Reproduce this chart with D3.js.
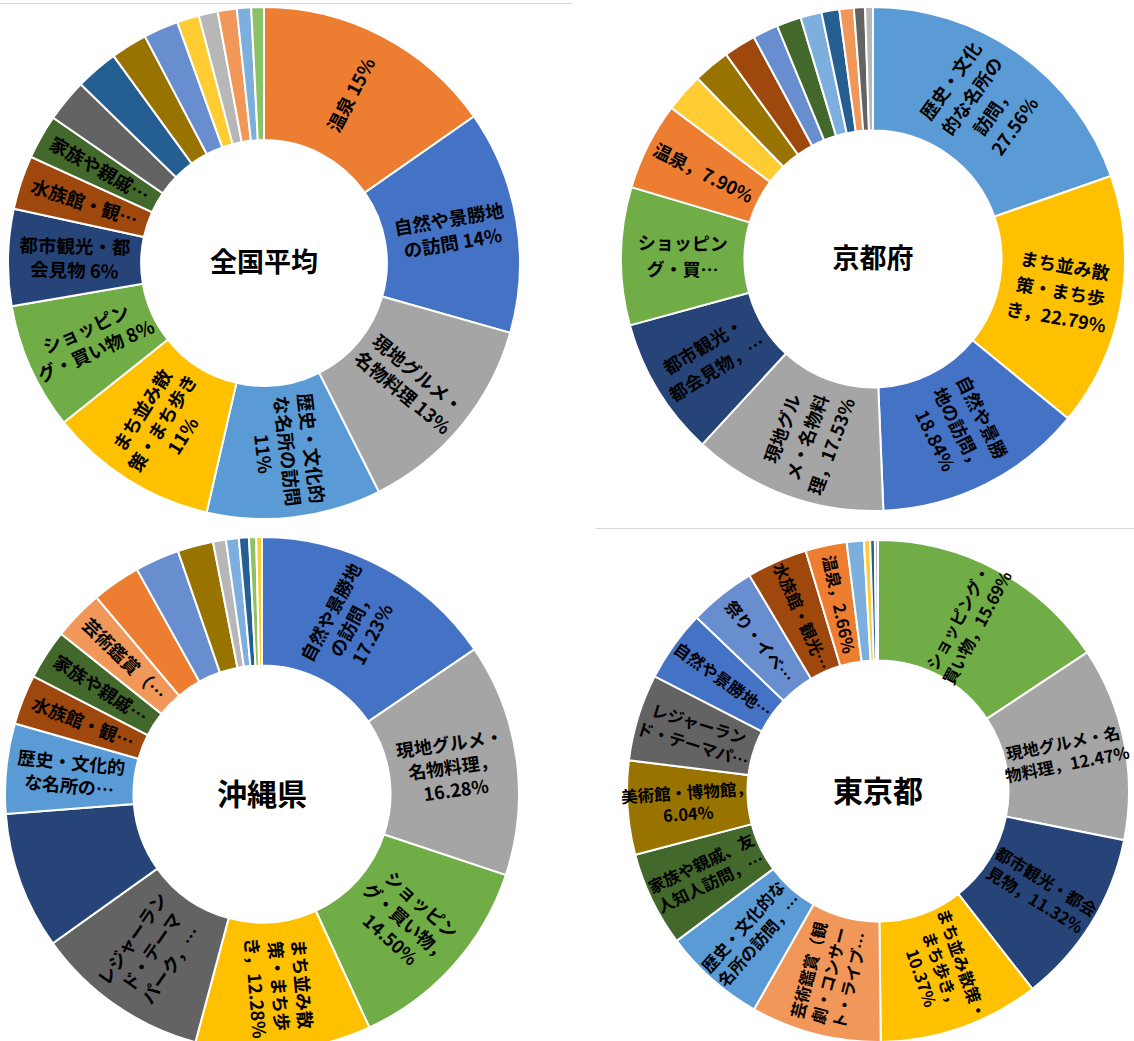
<!DOCTYPE html>
<html>
<head>
<meta charset="utf-8">
<script src="https://cdn.jsdelivr.net/npm/d3@7"></script>
<style>
  body { margin: 0; background: #fff; }
  svg { display: block; font-family: "Noto Sans CJK JP", sans-serif; }
</style>
</head>
<body>
<div id="chart"></div>
<script>
// Category list and Excel-style colours (same colour per category in every chart)
const categories = [
    '歴史・文化的な名所の訪問', '温泉', '現地グルメ・名物料理', 'まち並み散策・まち歩き',
    '自然や景勝地の訪問', 'ショッピング・買い物', 'スポーツ観戦', '水族館・観光牧場・動物園',
    'レジャーランド・テーマパーク', '美術館・博物館', '都市観光・都会見物', '家族や親戚、友人知人訪問',
    '海水浴', '芸術鑑賞（観劇・コンサート・ライブ）', 'スキー・スノーボード', '登山・ハイキング',
    '祭り・イベント', 'その他'
];
const categoryColors = [
    '#5B9BD5', '#ED7D31', '#A5A5A5', '#FFC000', '#4472C4', '#70AD47',
    '#255E91', '#9E480E', '#636363', '#997300', '#264478', '#43682B',
    '#7CAFDD', '#F1975A', '#B7B7B7', '#FFCD33', '#698ED0', '#8CC168'
];

// 全国平均
const zenkokuItems = ['温泉', '自然や景勝地の訪問', '現地グルメ・名物料理', '歴史・文化的な名所の訪問',
    'まち並み散策・まち歩き', 'ショッピング・買い物', '都市観光・都会見物', '水族館・観光牧場・動物園',
    '家族や親戚、友人知人訪問', 'レジャーランド・テーマパーク', 'スポーツ観戦', '美術館・博物館',
    '祭り・イベント', '登山・ハイキング', 'スキー・スノーボード', '芸術鑑賞（観劇・コンサート・ライブ）',
    '海水浴', 'その他'];
const zenkokuValues = [15.3, 14.1, 13.2, 11.0, 10.7, 8.0, 6.1, 3.4, 2.8, 2.7, 2.7, 2.3, 2.2, 1.4, 1.2, 1.2, 0.9, 0.8];
const zenkokuLabels = [['温泉  15%'], ['自然や景勝地', 'の訪問 14%'], ['現地グルメ・', '名物料理 13%'],
    ['歴史・文化的', 'な名所の訪問', '11%'], ['まち並み散', '策・まち歩き', '11%'], ['ショッピン', 'グ・買い物 8%'],
    ['都市観光・都', '会見物 6%'], ['水族館・観…'], ['家族や親戚…']];

// 京都府
const kyotoItems = ['歴史・文化的な名所の訪問', 'まち並み散策・まち歩き', '自然や景勝地の訪問', '現地グルメ・名物料理',
    '都市観光・都会見物', 'ショッピング・買い物', '温泉', '登山・ハイキング', '美術館・博物館',
    '水族館・観光牧場・動物園', '祭り・イベント', '家族や親戚、友人知人訪問', '海水浴', 'スポーツ観戦',
    '芸術鑑賞（観劇・コンサート・ライブ）', 'レジャーランド・テーマパーク', 'スキー・スノーボード'];
const kyotoValues = [27.56, 22.79, 18.84, 17.53, 12.5, 12.4, 7.90, 3.5, 3.3, 2.9, 2.3, 2.2, 1.9, 1.6, 1.3, 1.0, 0.7];
const kyotoLabels = [['歴史・文化', '的な名所の', '訪問，', '27.56%'], ['まち並み散', '策・まち歩', 'き，22.79%'],
    ['自然や景勝', '地の訪問，', '18.84%'], ['現地グル', 'メ・名物料', '理，17.53%'], ['都市観光・', '都会見物，…'],
    ['ショッピン', 'グ・買…'], ['温泉，7.90%']];

// 沖縄県
const okinawaItems = ['自然や景勝地の訪問', '現地グルメ・名物料理', 'ショッピング・買い物', 'まち並み散策・まち歩き',
    'レジャーランド・テーマパーク', '都市観光・都会見物', '歴史・文化的な名所の訪問', '水族館・観光牧場・動物園',
    '家族や親戚、友人知人訪問', '芸術鑑賞（観劇・コンサート・ライブ）', '温泉', '祭り・イベント', '美術館・博物館',
    'スキー・スノーボード', '海水浴', 'スポーツ観戦', 'その他', '登山・ハイキング'];
const okinawaValues = [17.23, 16.28, 14.50, 12.28, 12.2, 9.6, 6.3, 3.5, 3.5, 3.5, 3.4, 3.1, 2.5, 0.9, 0.9, 0.7, 0.5, 0.4];
const okinawaLabels = [['自然や景勝地', 'の訪問，', '17.23%'], ['現地グルメ・', '名物料理，', '16.28%'],
    ['ショッピン', 'グ・買い物，', '14.50%'], ['まち並み散', '策・まち歩', 'き，12.28%'],
    ['レジャーラン', 'ド・テーマ', 'パーク，…'], null, ['歴史・文化的', 'な名所の…'], ['水族館・観…'],
    ['家族や親戚…'], ['芸術鑑賞（…']];

// 東京都
const tokyoItems = ['ショッピング・買い物', '現地グルメ・名物料理', '都市観光・都会見物', 'まち並み散策・まち歩き',
    '芸術鑑賞（観劇・コンサート・ライブ）', '歴史・文化的な名所の訪問', '家族や親戚、友人知人訪問', '美術館・博物館',
    'レジャーランド・テーマパーク', '自然や景勝地の訪問', '祭り・イベント', '水族館・観光牧場・動物園', '温泉',
    '海水浴', '登山・ハイキング', 'スポーツ観戦', 'スキー・スノーボード'];
const tokyoValues = [15.69, 12.47, 11.32, 10.37, 8.4, 6.6, 6.1, 6.04, 5.6, 4.6, 4.3, 3.9, 2.66, 1.1, 0.4, 0.3, 0.2];
const tokyoLabels = [['ショッピング・', '買い物，15.69%'], ['現地グルメ・名', '物料理，12.47%'],
    ['都市観光・都会', '見物，11.32%'], ['まち並み散策・', 'まち歩き，', '10.37%'],
    ['芸術鑑賞（観', '劇・コンサー', 'ト・ライブ…'], ['歴史・文化的な', '名所の訪問，…'],
    ['家族や親戚、友', '人知人訪問，…'], ['美術館・博物館，', '6.04%'], ['レジャーラン', 'ド・テーマパ…'],
    ['自然や景勝地…'], ['祭り・イベ…'], ['水族館・観光…'], ['温泉，2.66%']];

const width = 1134;
const height = 1041;

const svg = d3.select('#chart').append('svg')
    .attr('width', width)
    .attr('height', height);

const color = d3.scaleOrdinal().domain(categories).range(categoryColors);

// thin frame lines of the pasted chart areas
svg.append('line')
    .attr('x1', 0).attr('x2', 572).attr('y1', 3.5).attr('y2', 3.5)
    .attr('stroke', '#d9d9d9');
svg.append('line')
    .attr('x1', 596).attr('x2', width).attr('y1', 528.5).attr('y2', 528.5)
    .attr('stroke', '#d9d9d9');

function drawDonut(title, items, values, labels, opts) {
    const { cx, cy, outer, hole, fontSize, lineGap, titleSize } = opts;
    const data = items.map((name, i) => ({ name, value: values[i], label: labels[i] || null }));
    const inner = outer * hole;

    const pie = d3.pie().sort(null).value(d => d.value);
    const arc = d3.arc().innerRadius(inner).outerRadius(outer);
    const labelArc = d3.arc().innerRadius((inner + outer) / 2).outerRadius((inner + outer) / 2);

    const g = svg.append('g').attr('transform', `translate(${cx}, ${cy})`);

    const slices = pie(data);

    g.selectAll('path')
        .data(slices)
        .enter().append('path')
        .attr('d', arc)
        .attr('fill', d => color(d.data.name))
        .attr('stroke', '#fff')
        .attr('stroke-width', 2);

    // data labels, rotated along the radius like Excel does
    const lineHeight = fontSize * lineGap;
    const lab = g.selectAll('text.lab')
        .data(slices.filter(d => d.data.label))
        .enter().append('text')
        .attr('class', 'lab')
        .attr('transform', d => {
            const [x, y] = labelArc.centroid(d);
            const mid = (d.startAngle + d.endAngle) / 2 * 180 / Math.PI;
            const rot = mid < 180 ? mid - 90 : mid - 270;
            return `translate(${x}, ${y}) rotate(${rot})`;
        })
        .style('font-size', fontSize + 'px')
        .style('font-weight', 'bold')
        .style('text-anchor', 'middle')
        .attr('fill', '#000');

    lab.selectAll('tspan')
        .data(d => d.data.label.map((t, i, arr) => ({ t, i, n: arr.length })))
        .enter().append('tspan')
        .attr('x', 0)
        .attr('y', d => (d.i - (d.n - 1) / 2) * lineHeight)
        .attr('dy', '0.35em')
        .text(d => d.t);

    g.append('text')
        .attr('y', 0)
        .attr('dy', '0.35em')
        .style('text-anchor', 'middle')
        .style('font-size', titleSize + 'px')
        .style('font-weight', 'bold')
        .attr('fill', '#000')
        .text(title);
}

drawDonut('全国平均', zenkokuItems, zenkokuValues, zenkokuLabels,
    { cx: 264, cy: 263, outer: 256, hole: 0.48, fontSize: 18.5, lineGap: 1.3, titleSize: 27 });
drawDonut('京都府', kyotoItems, kyotoValues, kyotoLabels,
    { cx: 873, cy: 259, outer: 252, hole: 0.51, fontSize: 18, lineGap: 1.45, titleSize: 27 });
drawDonut('沖縄県', okinawaItems, okinawaValues, okinawaLabels,
    { cx: 262, cy: 794, outer: 257, hole: 0.5, fontSize: 18, lineGap: 1.3, titleSize: 30 });
drawDonut('東京都', tokyoItems, tokyoValues, tokyoLabels,
    { cx: 878, cy: 791, outer: 251, hole: 0.52, fontSize: 16.5, lineGap: 1.3, titleSize: 30 });
</script>
</body>
</html>
